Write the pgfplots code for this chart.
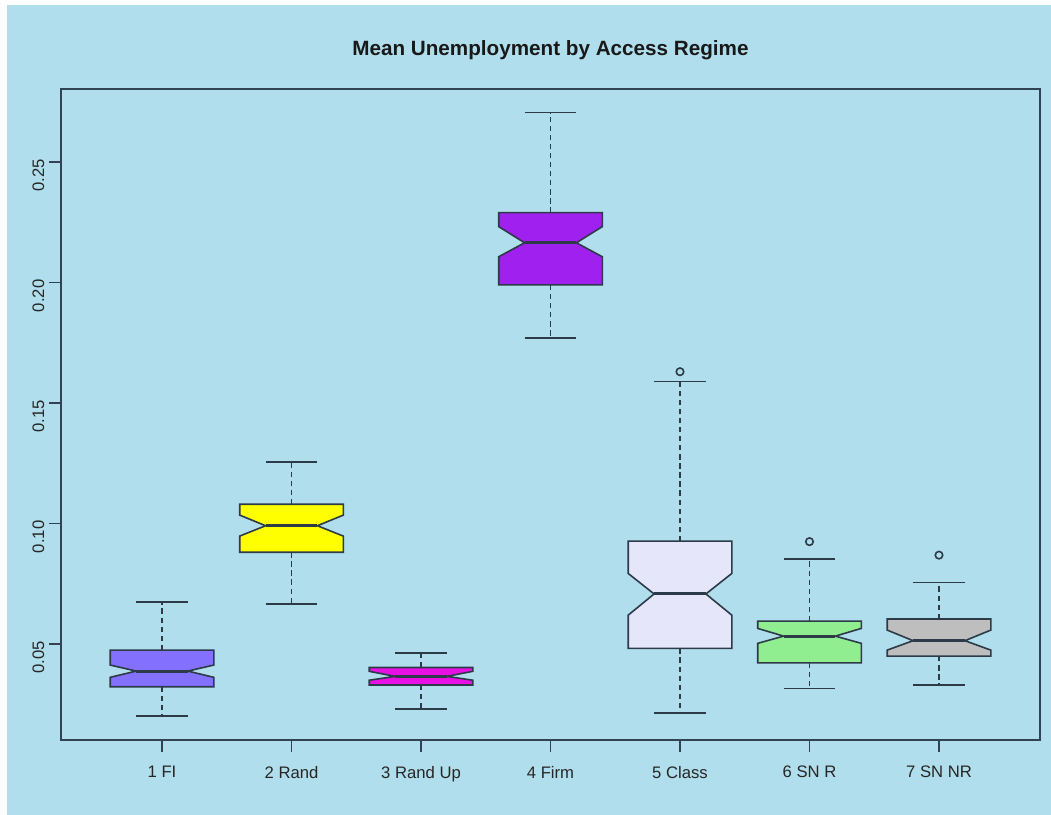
\documentclass[border=0pt]{standalone}
\usepackage{pgfplots}
\pgfplotsset{compat=1.18}
\usepackage{fontspec}
\setmainfont{Liberation Sans}
\definecolor{bgblue}{RGB}{177,222,236}
\definecolor{framec}{RGB}{48,66,84}
\definecolor{linec}{RGB}{45,58,72}
\definecolor{c1}{RGB}{132,112,255}
\definecolor{c2}{RGB}{255,255,0}
\definecolor{c3}{RGB}{232,16,228}
\definecolor{c4}{RGB}{160,32,240}
\definecolor{c5}{RGB}{230,230,250}
\definecolor{c6}{RGB}{144,238,144}
\definecolor{c7}{RGB}{190,190,190}
\pgfplotsset{
  whisk/.style={linec, line width=1.4pt, dash pattern=on 4pt off 2.8pt},
  cap/.style={linec, line width=1.3pt},
  med/.style={linec, line width=2.2pt},
  bx/.style={fill=#1, draw=linec, line width=1.2pt},
  outl/.style={only marks, mark=o, mark size=2.8pt, mark options={linec, line width=1.2pt}},
}
\begin{document}
\begin{tikzpicture}
\fill[white] (0,0) rectangle (788.25pt,611.25pt);
\fill[bgblue] (5.25pt,0) rectangle (788.25pt,607.5pt);
\begin{axis}[
  at={(45.75pt,56.25pt)}, anchor=south west,
  scale only axis, width=734.25pt, height=488.25pt,
  xmin=0.22, xmax=7.78, ymin=0.0102, ymax=0.2803,
  axis line style={framec, line width=1.4pt},
  xtick={1,2,3,4,5,6,7},
  xticklabels={1 FI,2 Rand,3 Rand Up,4 Firm,5 Class,6 SN R,7 SN NR},
  ytick={0.05,0.10,0.15,0.20,0.25},
  xtick pos=bottom, ytick pos=left,
  tick align=outside, major tick length=9pt,
  tick style={framec, line width=1.2pt},
  /pgf/number format/assume math mode=true,
  yticklabel={\pgfmathprintnumber[fixed,zerofill,precision=2]{\tick}},
  yticklabel style={rotate=90, anchor=south, xshift=-10pt, font=\fontsize{12.5}{14}\selectfont, text=black!85},
  xticklabel style={yshift=-7pt, font=\fontsize{12.5}{14}\selectfont, text=black!85},
  clip=false,
]
% box 1
\addplot[bx=c1] coordinates {(0.6,0.0323) (0.6,0.0362) (0.8,0.0388) (0.6,0.0413) (0.6,0.0475) (1.4,0.0475) (1.4,0.0413) (1.2,0.0388) (1.4,0.0362) (1.4,0.0323)} -- cycle;
\addplot[med] coordinates {(0.8,0.0388) (1.2,0.0388)};
\addplot[whisk] coordinates {(1,0.0475) (1,0.0676)};
\addplot[whisk] coordinates {(1,0.0323) (1,0.0201)};
\addplot[cap] coordinates {(0.8,0.0676) (1.2,0.0676)};
\addplot[cap] coordinates {(0.8,0.0201) (1.2,0.0201)};
% box 2
\addplot[bx=c2] coordinates {(1.6,0.0881) (1.6,0.0948) (1.8,0.0991) (1.6,0.1035) (1.6,0.1080) (2.4,0.1080) (2.4,0.1035) (2.2,0.0991) (2.4,0.0948) (2.4,0.0881)} -- cycle;
\addplot[med] coordinates {(1.8,0.0991) (2.2,0.0991)};
\addplot[whisk] coordinates {(2,0.1080) (2,0.1254)};
\addplot[whisk] coordinates {(2,0.0881) (2,0.0666)};
\addplot[cap] coordinates {(1.8,0.1254) (2.2,0.1254)};
\addplot[cap] coordinates {(1.8,0.0666) (2.2,0.0666)};
% box 3
\addplot[bx=c3] coordinates {(2.6,0.0330) (2.6,0.0350) (2.8,0.0366) (2.6,0.0387) (2.6,0.0403) (3.4,0.0403) (3.4,0.0387) (3.2,0.0366) (3.4,0.0350) (3.4,0.0330)} -- cycle;
\addplot[med] coordinates {(2.8,0.0366) (3.2,0.0366)};
\addplot[whisk] coordinates {(3,0.0403) (3,0.0464)};
\addplot[whisk] coordinates {(3,0.0330) (3,0.0230)};
\addplot[cap] coordinates {(2.8,0.0464) (3.2,0.0464)};
\addplot[cap] coordinates {(2.8,0.0230) (3.2,0.0230)};
% box 4
\addplot[bx=c4] coordinates {(3.6,0.1990) (3.6,0.2107) (3.8,0.2165) (3.6,0.2232) (3.6,0.2290) (4.4,0.2290) (4.4,0.2232) (4.2,0.2165) (4.4,0.2107) (4.4,0.1990)} -- cycle;
\addplot[med] coordinates {(3.8,0.2165) (4.2,0.2165)};
\addplot[whisk] coordinates {(4,0.2290) (4,0.2705)};
\addplot[whisk] coordinates {(4,0.1990) (4,0.1769)};
\addplot[cap] coordinates {(3.8,0.2705) (4.2,0.2705)};
\addplot[cap] coordinates {(3.8,0.1769) (4.2,0.1769)};
% box 5
\addplot[bx=c5] coordinates {(4.6,0.0482) (4.6,0.0620) (4.8,0.0708) (4.6,0.0793) (4.6,0.0927) (5.4,0.0927) (5.4,0.0793) (5.2,0.0708) (5.4,0.0620) (5.4,0.0482)} -- cycle;
\addplot[med] coordinates {(4.8,0.0708) (5.2,0.0708)};
\addplot[whisk] coordinates {(5,0.0927) (5,0.1589)};
\addplot[whisk] coordinates {(5,0.0482) (5,0.0215)};
\addplot[cap] coordinates {(4.8,0.1589) (5.2,0.1589)};
\addplot[cap] coordinates {(4.8,0.0215) (5.2,0.0215)};
\addplot[outl] coordinates {(5,0.1630)};
% box 6
\addplot[bx=c6] coordinates {(5.6,0.0422) (5.6,0.0503) (5.8,0.0533) (5.6,0.0565) (5.6,0.0595) (6.4,0.0595) (6.4,0.0565) (6.2,0.0533) (6.4,0.0503) (6.4,0.0422)} -- cycle;
\addplot[med] coordinates {(5.8,0.0533) (6.2,0.0533)};
\addplot[whisk] coordinates {(6,0.0595) (6,0.0853)};
\addplot[whisk] coordinates {(6,0.0422) (6,0.0316)};
\addplot[cap] coordinates {(5.8,0.0853) (6.2,0.0853)};
\addplot[cap] coordinates {(5.8,0.0316) (6.2,0.0316)};
\addplot[outl] coordinates {(6,0.0925)};
% box 7
\addplot[bx=c7] coordinates {(6.6,0.0450) (6.6,0.0475) (6.8,0.0514) (6.6,0.0558) (6.6,0.0604) (7.4,0.0604) (7.4,0.0558) (7.2,0.0514) (7.4,0.0475) (7.4,0.0450)} -- cycle;
\addplot[med] coordinates {(6.8,0.0514) (7.2,0.0514)};
\addplot[whisk] coordinates {(7,0.0604) (7,0.0756)};
\addplot[whisk] coordinates {(7,0.0450) (7,0.0330)};
\addplot[cap] coordinates {(6.8,0.0756) (7.2,0.0756)};
\addplot[cap] coordinates {(6.8,0.0330) (7.2,0.0330)};
\addplot[outl] coordinates {(7,0.0869)};
\end{axis}
\node[anchor=base, font=\bfseries\fontsize{15.5}{18}\selectfont, text=black!90] at (412.875pt,569.475pt) {Mean Unemployment by Access Regime};
\end{tikzpicture}
\end{document}
